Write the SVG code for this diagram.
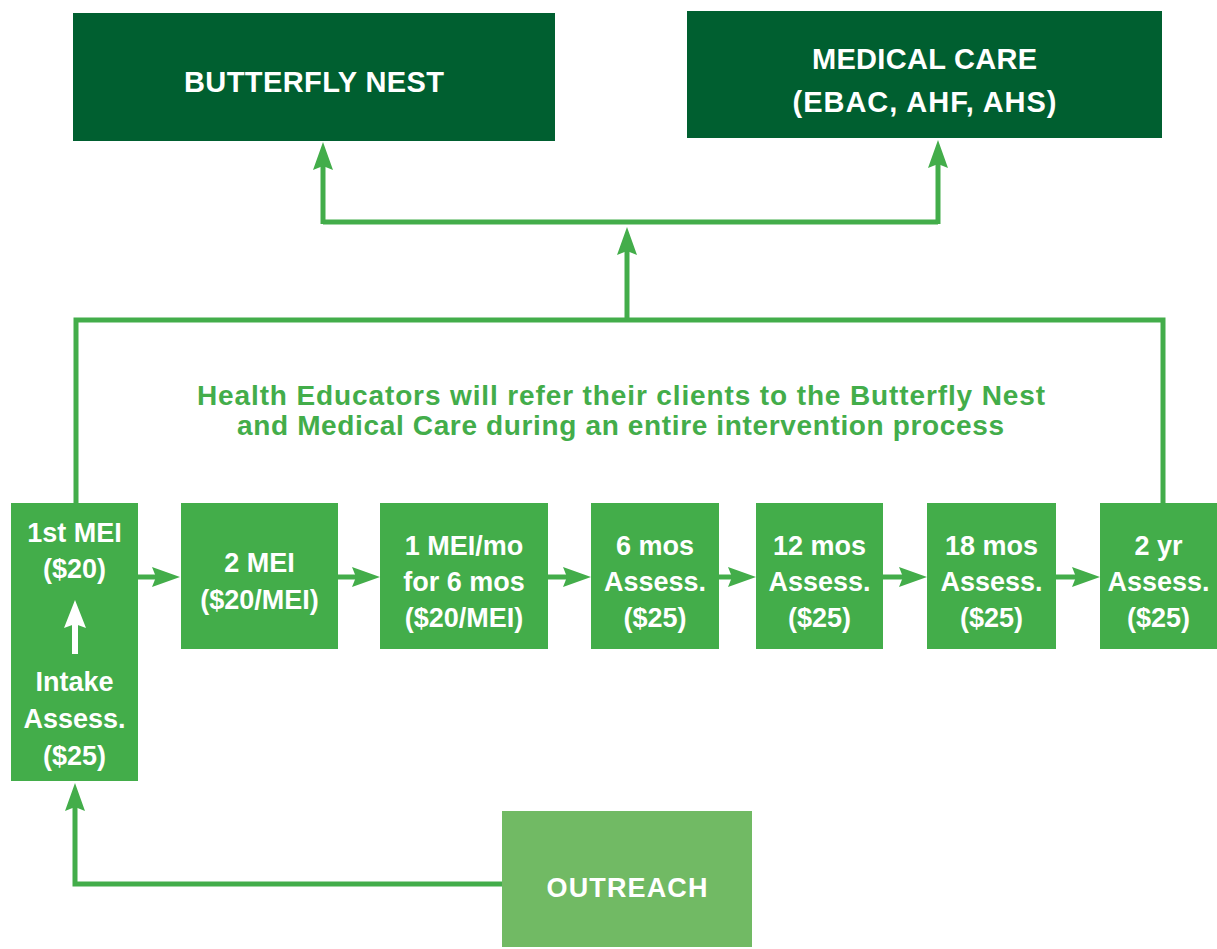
<svg xmlns="http://www.w3.org/2000/svg" width="1217" height="949" viewBox="0 0 1217 949">
<style>
.dark{fill:#005F30}
.mid{fill:#43AD4A}
.light{fill:#71BA64}
.t{font-family:"Liberation Sans",Arial,sans-serif;font-weight:bold;fill:#ffffff;text-anchor:middle}
.big{font-size:29px}
.box{font-size:27px}
.note{font-family:"Liberation Sans",Arial,sans-serif;font-weight:bold;fill:#43AD4A;text-anchor:middle;font-size:28px}
.c{fill:none;stroke:#43AD4A;stroke-width:5}
</style>
<defs>
<marker id="ah" viewBox="0 0 28 20" refX="4" refY="10" markerWidth="28" markerHeight="20" markerUnits="userSpaceOnUse" orient="auto">
<path d="M0,0 L28,10 L0,20 L4,10 Z" fill="#43AD4A"/>
</marker>
<marker id="aw" viewBox="0 0 28 22" refX="4" refY="11" markerWidth="28" markerHeight="22" markerUnits="userSpaceOnUse" orient="auto">
<path d="M0,0 L28,11 L0,22 L4,11 Z" fill="#ffffff"/>
</marker>
</defs>

<g id="connectors">
<path class="c" d="M76,503 V320 H1163 V503"/>
<path class="c" d="M627,320 V251" marker-end="url(#ah)"/>
<path class="c" d="M323,222 H938"/>
<path class="c" d="M323,224 V166" marker-end="url(#ah)"/>
<path class="c" d="M938,224 V164" marker-end="url(#ah)"/>
<path class="c" d="M502,884 H75 V807" marker-end="url(#ah)"/>
<path class="c" d="M138,577 H156" marker-end="url(#ah)"/>
<path class="c" d="M338,577 H356" marker-end="url(#ah)"/>
<path class="c" d="M548,577 H567" marker-end="url(#ah)"/>
<path class="c" d="M719,577 H732" marker-end="url(#ah)"/>
<path class="c" d="M883,577 H903" marker-end="url(#ah)"/>
<path class="c" d="M1056,577 H1076" marker-end="url(#ah)"/>
</g>

<g id="butterfly-nest">
<rect class="dark" x="73" y="13" width="482" height="128"/>
<text class="t big" x="314" y="92" textLength="260" lengthAdjust="spacing">BUTTERFLY NEST</text>
</g>

<g id="medical-care">
<rect class="dark" x="687" y="11" width="475" height="127"/>
<text class="t big" x="924.5" y="69" textLength="225" lengthAdjust="spacing">MEDICAL CARE</text>
<text class="t big" x="924.5" y="112" textLength="264" lengthAdjust="spacing">(EBAC, AHF, AHS)</text>
</g>

<g id="note">
<text class="note" x="621" y="405" textLength="848" lengthAdjust="spacing">Health Educators will refer their clients to the Butterfly Nest</text>
<text class="note" x="620.5" y="435" textLength="767" lengthAdjust="spacing">and Medical Care during an entire intervention process</text>
</g>

<g id="first-mei">
<rect class="mid" x="11" y="503" width="127" height="278"/>
<text class="t box" x="74.5" y="542">1st MEI</text>
<text class="t box" x="74.5" y="578">($20)</text>
<path d="M75,654 V624" stroke="#ffffff" stroke-width="6" fill="none" marker-end="url(#aw)"/>
<text class="t box" x="74.5" y="691">Intake</text>
<text class="t box" x="74.5" y="728">Assess.</text>
<text class="t box" x="74.5" y="765">($25)</text>
</g>

<g id="two-mei">
<rect class="mid" x="181" y="503" width="157" height="146"/>
<text class="t box" x="259.5" y="572">2 MEI</text>
<text class="t box" x="259.5" y="609">($20/MEI)</text>
</g>

<g id="monthly-mei">
<rect class="mid" x="380" y="503" width="168" height="146"/>
<text class="t box" x="464" y="555">1 MEI/mo</text>
<text class="t box" x="464" y="591">for 6 mos</text>
<text class="t box" x="464" y="627">($20/MEI)</text>
</g>

<g id="six-mos">
<rect class="mid" x="591" y="503" width="128" height="146"/>
<text class="t box" x="655" y="555">6 mos</text>
<text class="t box" x="655" y="591">Assess.</text>
<text class="t box" x="655" y="627">($25)</text>
</g>

<g id="twelve-mos">
<rect class="mid" x="756" y="503" width="127" height="146"/>
<text class="t box" x="819.5" y="555">12 mos</text>
<text class="t box" x="819.5" y="591">Assess.</text>
<text class="t box" x="819.5" y="627">($25)</text>
</g>

<g id="eighteen-mos">
<rect class="mid" x="927" y="503" width="129" height="146"/>
<text class="t box" x="991.5" y="555">18 mos</text>
<text class="t box" x="991.5" y="591">Assess.</text>
<text class="t box" x="991.5" y="627">($25)</text>
</g>

<g id="two-yr">
<rect class="mid" x="1100" y="503" width="117" height="146"/>
<text class="t box" x="1158.5" y="555">2 yr</text>
<text class="t box" x="1158.5" y="591">Assess.</text>
<text class="t box" x="1158.5" y="627">($25)</text>
</g>

<g id="outreach">
<rect class="light" x="502" y="811" width="250" height="136"/>
<text class="t box" x="627" y="897" textLength="161" lengthAdjust="spacing">OUTREACH</text>
</g>
</svg>
